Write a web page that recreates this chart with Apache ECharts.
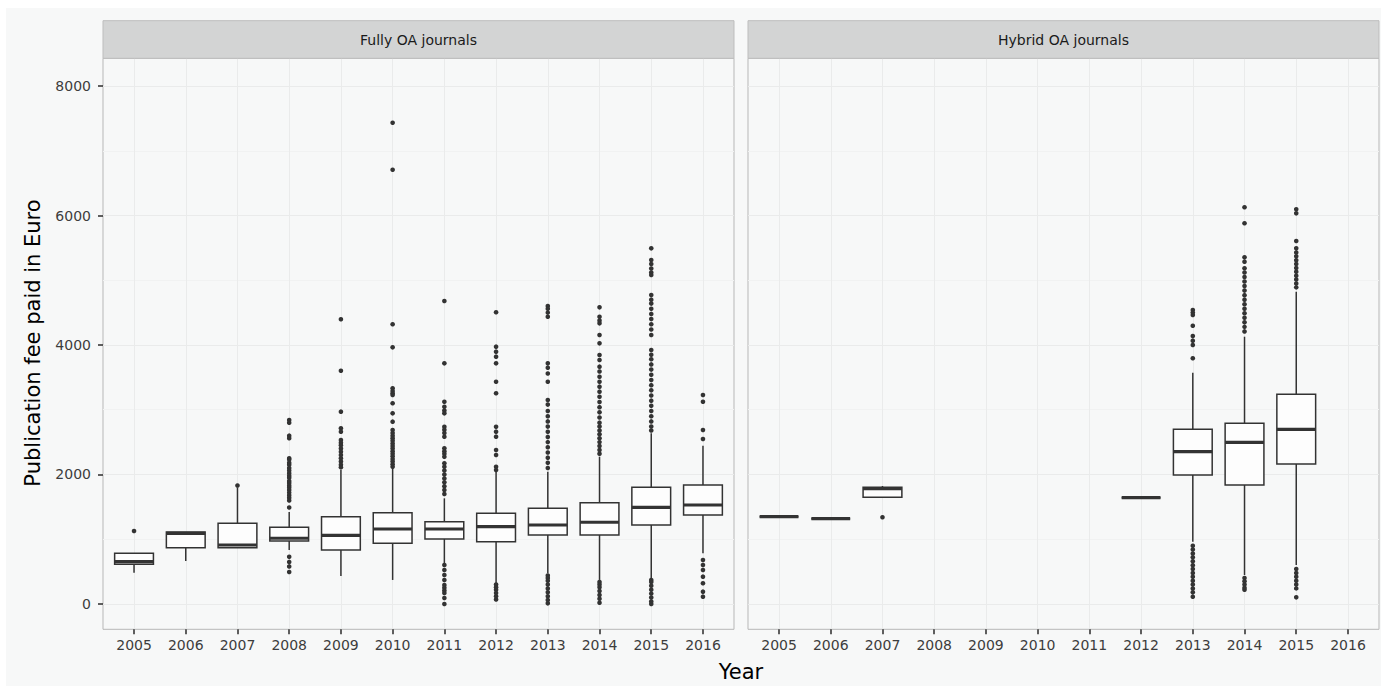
<!DOCTYPE html>
<html>
<head>
<meta charset="utf-8">
<script src="https://cdn.jsdelivr.net/npm/echarts@6/dist/echarts.min.js"></script>
<style>
  html, body { margin: 0; padding: 0; background: #ffffff; }
  #chart { width: 1381px; height: 686px; }
</style>
</head>
<body>
<div id="chart"></div>
<script>
// ---------------- data ----------------
const years = [2005, 2006, 2007, 2008, 2009, 2010, 2011, 2012, 2013, 2014, 2015, 2016];
const yTicks = [0, 2000, 4000, 6000, 8000];
const yMinorTicks = [1000, 3000, 5000, 7000];
const panelTitles = ['Fully OA journals', 'Hybrid OA journals'];
const xTitle = 'Year';
const yTitle = 'Publication fee paid in Euro';

// [year, lower whisker, Q1, median, Q3, upper whisker]
const fullyOABoxes = [
  [2005, 483, 613, 655, 783, 783],
  [2006, 664, 870, 1090, 1112, 1112],
  [2007, 870, 870, 911, 1246, 1800],
  [2008, 834, 973, 1015, 1185, 1420],
  [2009, 432, 834, 1061, 1348, 2070],
  [2010, 371, 937, 1158, 1410, 2096],
  [2011, 628, 1004, 1158, 1271, 1632],
  [2012, 320, 962, 1194, 1401, 2070],
  [2013, 474, 1066, 1220, 1478, 2043],
  [2014, 371, 1066, 1262, 1565, 2275],
  [2015, 397, 1220, 1493, 1802, 2636],
  [2016, 783, 1375, 1529, 1838, 2445]
];
// outliers, one list per year (same order as years)
const fullyOAOutliers = [
  [1127],
  [],
  [1830],
  [2842, 2800, 2600, 2560, 2250, 2230, 2180, 2150, 2100, 2060, 2020, 1980, 1950, 1900, 1870, 1830, 1800, 1760, 1720, 1680, 1640, 1600, 1490, 730, 650, 580, 494],
  [4397, 3603, 2970, 2713, 2661, 2533, 2490, 2450, 2400, 2350, 2300, 2250, 2200, 2150, 2110],
  [7433, 6707, 4320, 3964, 3331, 3290, 3254, 3228, 3100, 2945, 2816, 2687, 2640, 2600, 2560, 2520, 2480, 2440, 2400, 2360, 2320, 2280, 2240, 2200, 2160, 2120],
  [4680, 3717, 3124, 3047, 2990, 2945, 2738, 2690, 2640, 2584, 2405, 2360, 2320, 2275, 2173, 2120, 2060, 2000, 1940, 1880, 1820, 1760, 1700, 602, 525, 448, 371, 293, 250, 210, 170, 93, 0],
  [4505, 3974, 3897, 3820, 3717, 3433, 3254, 2738, 2661, 2584, 2378, 2301, 2120, 2070, 300, 260, 220, 170, 120, 70],
  [4602, 4560, 4500, 4437, 3717, 3650, 3560, 3433, 3151, 3080, 2980, 2900, 2820, 2740, 2660, 2580, 2500, 2420, 2340, 2260, 2180, 2100, 440, 400, 360, 300, 240, 180, 120, 60, 10],
  [4582, 4437, 4380, 4335, 4155, 4026, 3846, 3768, 3665, 3590, 3510, 3433, 3356, 3279, 3200, 3120, 3040, 2960, 2880, 2800, 2740, 2680, 2620, 2560, 2500, 2440, 2380, 2320, 340, 300, 260, 200, 140, 80, 20],
  [5493, 5313, 5250, 5180, 5120, 5081, 4772, 4700, 4640, 4560, 4480, 4400, 4320, 4240, 4155, 3923, 3850, 3780, 3700, 3620, 3540, 3460, 3380, 3300, 3220, 3140, 3060, 2980, 2900, 2820, 2740, 2680, 370, 340, 280, 220, 160, 100, 40, 0],
  [3228, 3124, 2687, 2548, 680, 602, 525, 422, 320, 190, 113]
];

const hybridBoxes = [
  [2005, 1348, 1348, 1348, 1348, 1348],
  [2006, 1317, 1317, 1317, 1317, 1317],
  [2007, 1648, 1648, 1780, 1802, 1822],
  [2012, 1642, 1642, 1642, 1642, 1642],
  [2013, 962, 1992, 2352, 2698, 3572],
  [2014, 448, 1838, 2497, 2791, 4128],
  [2015, 602, 2162, 2698, 3239, 4823]
];
const hybridOutliers = [
  [],
  [],
  [1339],
  [],
  [4541, 4500, 4463, 4298, 4139, 4067, 4000, 3795, 900, 840, 780, 720, 660, 600, 540, 480, 420, 360, 300, 240, 180, 113],
  [6127, 5880, 5354, 5287, 5185, 5120, 5050, 4980, 4910, 4840, 4770, 4700, 4630, 4560, 4490, 4420, 4350, 4280, 4210, 400, 350, 300, 250, 220],
  [6096, 6034, 5606, 5493, 5430, 5370, 5310, 5250, 5190, 5130, 5070, 5010, 4950, 4890, 540, 480, 420, 360, 300, 241, 103]
];

// ---------------- helpers ----------------
function outlierPoints(boxes, outliers) {
  const pts = [];
  boxes.forEach(function (b, i) {
    (outliers[i] || []).forEach(function (v) { pts.push([b[0], v]); });
  });
  return pts;
}

const INK = '#333333';
function renderBox(params, api) {
  const x = api.value(0);
  const lo = api.coord([x, api.value(1)]);
  const q1 = api.coord([x, api.value(2)]);
  const md = api.coord([x, api.value(3)]);
  const q3 = api.coord([x, api.value(4)]);
  const hi = api.coord([x, api.value(5)]);
  const w = api.size([0.75, 0])[0];
  const cx = q1[0];
  const lineStyle = { stroke: INK, lineWidth: 1.5, fill: null };
  return {
    type: 'group',
    children: [
      { type: 'line', shape: { x1: cx, y1: hi[1], x2: cx, y2: q3[1] }, style: lineStyle },
      { type: 'line', shape: { x1: cx, y1: q1[1], x2: cx, y2: lo[1] }, style: lineStyle },
      { type: 'rect', shape: { x: cx - w / 2, y: q3[1], width: w, height: q1[1] - q3[1] },
        style: { fill: '#fdfdfd', stroke: INK, lineWidth: 1.5 } },
      { type: 'line', shape: { x1: cx - w / 2, y1: md[1], x2: cx + w / 2, y2: md[1] },
        style: { stroke: INK, lineWidth: 3.2 } }
    ]
  };
}
function plainNumber(v) { return String(Math.round(v)); }

// ---------------- layout ----------------
const FONT = 'DejaVu Sans';
const panelTop = 58.3;
const panelHeight = 571;
const panelWidth = 631;
const panelLefts = [103, 748];
const yMin = -391, yMax = 8428;
const xMin = 2004.4, xMax = 2016.6;

const grids = panelLefts.map(function (l) {
  return {
    left: l, top: panelTop, width: panelWidth, height: panelHeight,
    show: true, backgroundColor: 'transparent', borderColor: '#b7b7b7', borderWidth: 1
  };
});

const xAxes = panelLefts.map(function (l, i) {
  return {
    type: 'value', gridIndex: i, min: xMin, max: xMax, position: 'bottom',
    axisLine: { show: false, onZero: false },
    axisTick: { show: true, length: 5, lineStyle: { color: '#2b2b2b', width: 1.5 }, customValues: years },
    axisLabel: {
      show: true, customValues: years, margin: 9, color: '#3d3d3d', fontSize: 14, fontFamily: FONT,
      formatter: plainNumber
    },
    splitLine: { show: true, lineStyle: { color: '#eaebeb', width: 1 } }
  };
});

const yAxes = [];
panelLefts.forEach(function (l, i) {
  yAxes.push({
    type: 'value', gridIndex: i, min: yMin, max: yMax, position: 'left',
    axisLine: { show: false, onZero: false },
    axisTick: { show: i === 0, length: 5, lineStyle: { color: '#2b2b2b', width: 1.5 }, customValues: yTicks },
    axisLabel: { show: i === 0, customValues: yTicks, margin: 12, color: '#3d3d3d', fontSize: 14, fontFamily: FONT, formatter: plainNumber },
    splitLine: { show: true, lineStyle: { color: '#eaebeb', width: 1 } }
  });
});
panelLefts.forEach(function (l, i) {
  yAxes.push({
    type: 'value', gridIndex: i, min: yMin, max: yMax, position: 'left',
    axisLine: { show: false, onZero: false },
    axisTick: { show: false, customValues: yMinorTicks },
    axisLabel: { show: false, customValues: yMinorTicks },
    splitLine: { show: true, lineStyle: { color: '#f1f2f2', width: 1 } }
  });
});

const panelBoxes = [fullyOABoxes, hybridBoxes];
const panelOutliers = [fullyOAOutliers, hybridOutliers];
const series = [];
panelBoxes.forEach(function (boxes, i) {
  series.push({
    type: 'scatter', xAxisIndex: i, yAxisIndex: i, silent: true,
    symbol: 'circle', symbolSize: 4.6,
    itemStyle: { color: INK, opacity: 1 },
    data: outlierPoints(boxes, panelOutliers[i]),
    z: 3
  });
  series.push({
    type: 'custom', xAxisIndex: i, yAxisIndex: i, silent: true,
    renderItem: renderBox,
    encode: { x: 0, y: [1, 2, 3, 4, 5] },
    data: boxes,
    z: 4
  });
});

const graphics = [
  { type: 'rect', silent: true, z: -10, shape: { x: 0, y: 0, width: 1381, height: 686 }, style: { fill: '#f7f8f8' } },
  { type: 'rect', silent: true, z: -9, shape: { x: 0, y: 0, width: 1381, height: 8 }, style: { fill: '#ffffff' } },
  { type: 'rect', silent: true, z: -9, shape: { x: 0, y: 0, width: 6, height: 686 }, style: { fill: '#ffffff' } }
];
panelLefts.forEach(function (l, i) {
  graphics.push({
    type: 'rect', silent: true, z: 10,
    shape: { x: l, y: 20.7, width: panelWidth, height: panelTop - 20.7 },
    style: { fill: '#d3d4d4', stroke: '#bdbdbd', lineWidth: 1 }
  });
  graphics.push({
    type: 'text', silent: true, z: 11,
    x: l + panelWidth / 2, y: (20.7 + panelTop) / 2,
    style: { text: panelTitles[i], fill: '#1a1a1a', font: '14px "DejaVu Sans"', align: 'center', verticalAlign: 'middle' }
  });
});
graphics.push({
  type: 'text', silent: true, z: 11, x: 741, y: 672,
  style: { text: xTitle, fill: '#000000', font: '21px "DejaVu Sans"', align: 'center', verticalAlign: 'middle' }
});
graphics.push({
  type: 'text', silent: true, z: 11, x: 33, y: 343, rotation: Math.PI / 2,
  style: { text: yTitle, fill: '#000000', font: '21px "DejaVu Sans"', align: 'center', verticalAlign: 'middle' }
});

const chart = echarts.init(document.getElementById('chart'), null, { renderer: 'svg' });
chart.setOption({
  animation: false,
  backgroundColor: '#f7f8f8',
  textStyle: { fontFamily: FONT },
  grid: grids,
  xAxis: xAxes,
  yAxis: yAxes,
  series: series,
  graphic: graphics
});
</script>
</body>
</html>
